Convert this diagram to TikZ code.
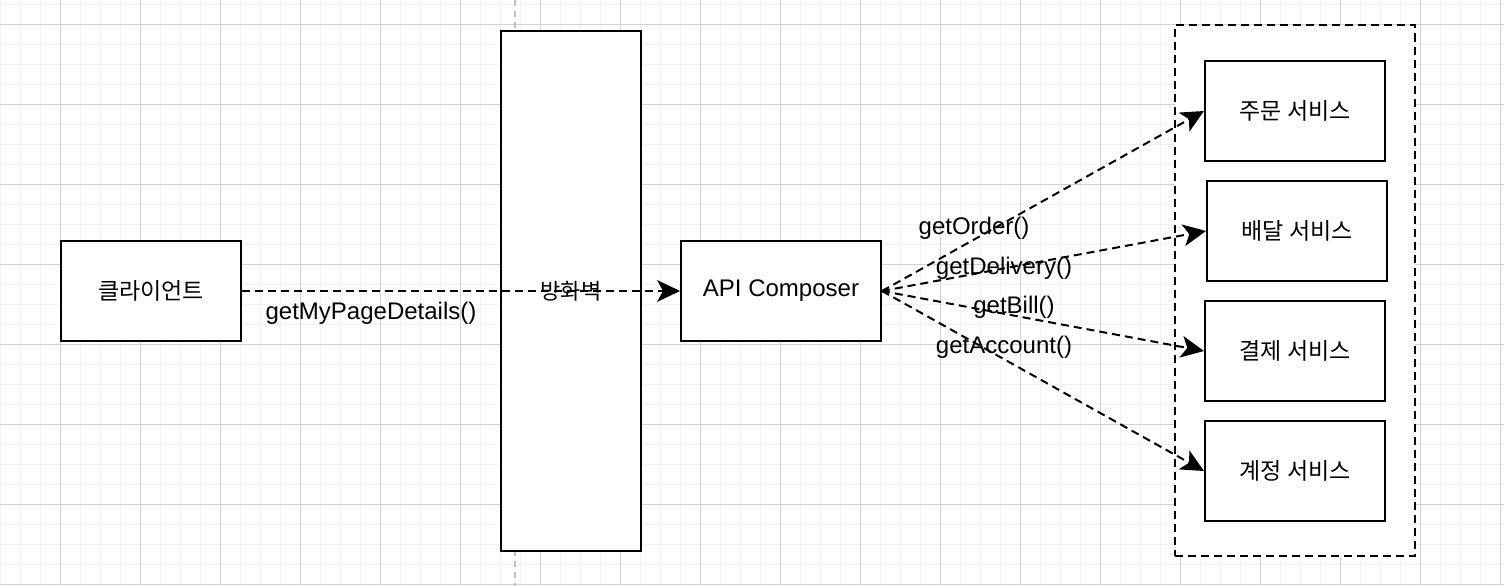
\documentclass[tikz,border=0pt]{standalone}
\usepackage{fontspec}
\setmainfont{Liberation Sans}
\newfontfamily\kr{Noto Sans CJK KR}
\usetikzlibrary{arrows.meta}
\begin{document}
\begin{tikzpicture}[x=1pt,y=-1pt,
  minorline/.style={draw=black!5, line width=1.2pt},
  majorline/.style={draw=black!18, line width=1.2pt},
  guide/.style={draw=black!25, line width=2pt, dash pattern=on 6pt off 5pt},
  box/.style={draw=black, line width=2pt, fill=white, minimum width=180pt, minimum height=100pt, inner sep=0pt, font=\kr\fontsize{23}{27}\selectfont},
  wall/.style={draw=black, line width=2pt, fill=white, minimum width=140pt, minimum height=520pt, inner sep=0pt},
  group/.style={draw=black, line width=2pt, fill=white, dash pattern=on 8pt off 5pt, minimum width=240pt, minimum height=530pt, inner sep=0pt},
  conn/.style={draw=black, line width=2pt, dash pattern=on 8pt off 5pt, -{Stealth[length=23pt,width=22pt,inset=6pt,line width=0pt]}},
  lbl/.style={inner sep=0pt, font=\fontsize{24}{28}\selectfont}]
\useasboundingbox (0,0) rectangle (1504,586);
\fill[white] (0,0) rectangle (1504,586);
% grid
\foreach \k in {0,...,75} \draw[minorline] ({0.7+20*\k},0) -- ({0.7+20*\k},586);
\foreach \k in {0,...,29} \draw[minorline] (0,{4.3+20*\k}) -- (1504,{4.3+20*\k});
\foreach \k in {0,...,18} \draw[majorline] ({60.7+80*\k},0) -- ({60.7+80*\k},586);
\foreach \k in {0,...,7} \draw[majorline] (0,{24.3+80*\k}) -- (1504,{24.3+80*\k});
% guide line
\coordinate (gtop) at (515,0);
\coordinate (gbot) at (515,586);
\draw[guide] (gtop) -- (gbot);
% nodes
\node[wall] (wall) at (571,291) {};
\node[group] (grp) at (1295,290.5) {};
\node[box] (client) at (151,291) {클라이언트};
\node[box, minimum width=200pt, font=\fontsize{24}{28}\selectfont] (api) at (781,291) {API Composer};
\node[box] (order) at (1295,111) {주문 서비스};
\node[box] (deliv) at (1297,231) {배달 서비스};
\node[box] (bill) at (1295,351) {결제 서비스};
\node[box] (acct) at (1295,471) {계정 서비스};
% connectors
\draw[conn] (client.east) -- (api.west);
\node[lbl] (lmain) at (371,313) {getMyPageDetails()};
\node[inner sep=0pt, font=\kr\fontsize{22}{26}\selectfont] (wlabel) at (wall.center) {방화벽};
\draw[conn] (api.east) -- (order.west);
\draw[conn] (api.east) -- (deliv.west);
\draw[conn] (api.east) -- (bill.west);
\draw[conn] (api.east) -- (acct.west);
\node[lbl] (l1) at (974,228) {getOrder()};
\node[lbl] (l2) at (1004,268) {getDelivery()};
\node[lbl] (l3) at (1014,307) {getBill()};
\node[lbl] (l4) at (1004,347) {getAccount()};
\end{tikzpicture}
\end{document}
